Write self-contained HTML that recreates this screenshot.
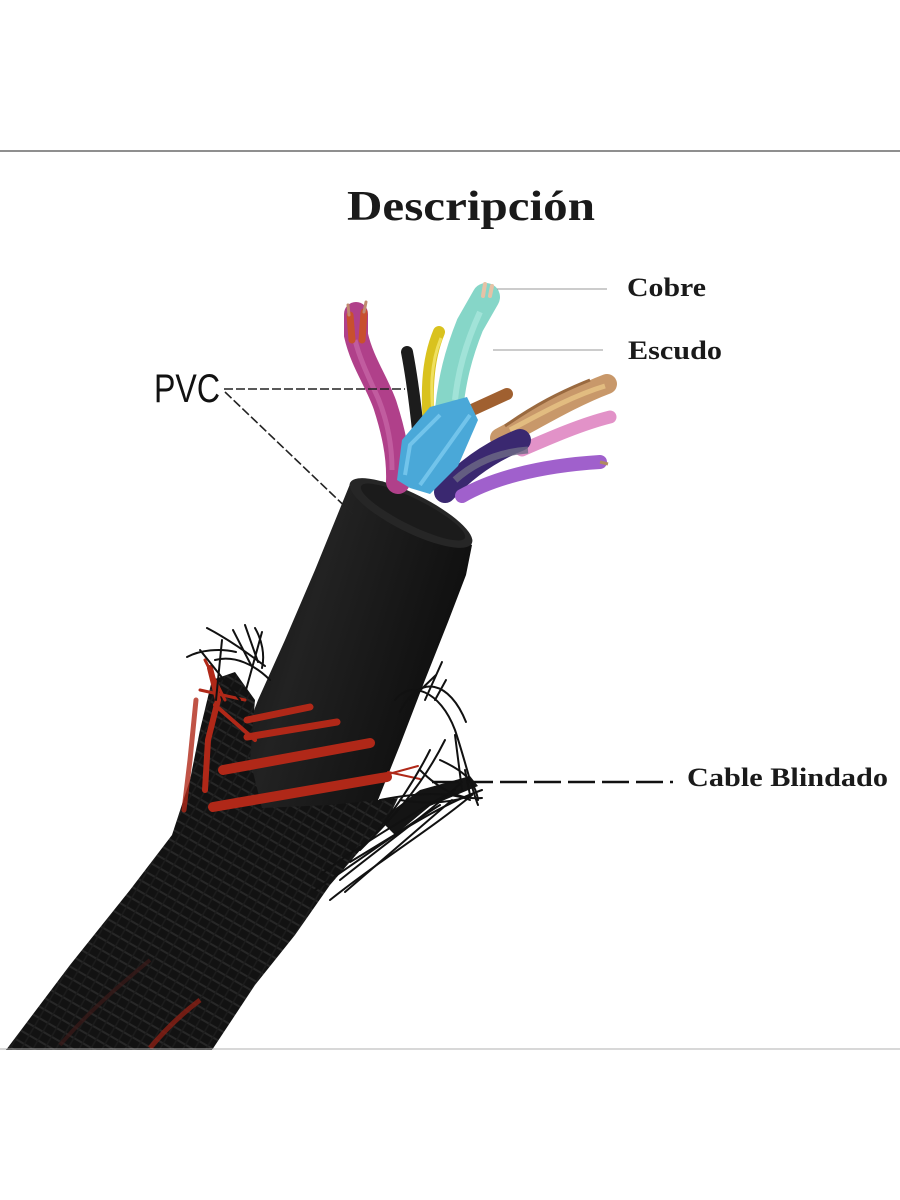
<!DOCTYPE html>
<html>
<head>
<meta charset="utf-8">
<style>
html,body{margin:0;padding:0;background:#fff;}
svg{display:block;}
</style>
</head>
<body>
<svg width="900" height="1200" viewBox="0 0 900 1200" xmlns="http://www.w3.org/2000/svg">
<defs>
  <linearGradient id="pvc" x1="0" y1="0" x2="1" y2="0.4">
    <stop offset="0" stop-color="#0c0c0c"/>
    <stop offset="0.45" stop-color="#222"/>
    <stop offset="0.75" stop-color="#171717"/>
    <stop offset="1" stop-color="#0e0e0e"/>
  </linearGradient>
  <pattern id="weave" width="10" height="10" patternUnits="userSpaceOnUse" patternTransform="rotate(30)">
    <rect width="10" height="10" fill="#121212"/>
    <line x1="0" y1="2" x2="10" y2="2" stroke="#272727" stroke-width="2"/>
    <line x1="3" y1="0" x2="3" y2="10" stroke="#1c1c1c" stroke-width="1.5"/>
  </pattern>
</defs>
<rect width="900" height="1200" fill="#fff"/>
<line x1="0" y1="151" x2="900" y2="151" stroke="#6a6a6a" stroke-width="1.5"/>

<!-- PVC jacket -->
<path d="M350,484 L472,545 L466,575 L448,622 L425,680 L400,745 L370,820 L215,820 L235,760 L258,700 L285,640 L315,570 Z" fill="url(#pvc)"/>
<!-- braid -->
<path d="M6,1050 L212,1050 L255,985 L295,935 L330,885 L362,848 L390,815 L398,798 L330,805 L262,808 L250,760 L255,700 L235,672 L212,680 L200,730 L190,780 L172,835 L130,890 L70,965 Z" fill="url(#weave)"/>
<path d="M150,1048 C165,1030 180,1015 200,1000" stroke="#8a1f14" stroke-width="5" fill="none" opacity="0.8"/>
<path d="M60,1045 C90,1010 120,985 150,960" stroke="#3a1a18" stroke-width="4" fill="none" opacity="0.7"/>
<!-- dark mass at right fray -->
<path d="M380,820 L420,790 L470,776 L478,786 L430,806 L395,835 Z" fill="#141414"/>

<!-- top face -->
<ellipse cx="411" cy="513" rx="68" ry="19" transform="rotate(26.6 411 513)" fill="#262626"/>
<ellipse cx="413" cy="512" rx="58" ry="13" transform="rotate(26.6 413 512)" fill="#1b1b1b"/>

<!-- wires -->
<!-- magenta -->
<path d="M398,482 C399,455 393,430 385,405 C377,382 362,362 356,335 L356,314" stroke="#b0408a" stroke-width="24" fill="none" stroke-linecap="round"/>
<path d="M392,470 C392,445 387,420 378,398 C370,380 360,360 355,340" stroke="#c968a8" stroke-width="5" fill="none" opacity="0.7"/>
<path d="M352,340 L350,315 M362,340 L364,312" stroke="#c8502e" stroke-width="7" stroke-linecap="round"/>
<path d="M349,315 L348,305 M364,312 L366,302" stroke="#c08a70" stroke-width="3" stroke-linecap="round"/>
<!-- black -->
<path d="M419,440 C416,410 412,378 407,352" stroke="#1c1c1c" stroke-width="12" fill="none" stroke-linecap="round"/>
<!-- yellow -->
<path d="M429,425 C427,398 426,363 439,332" stroke="#d9c21e" stroke-width="12" fill="none" stroke-linecap="round"/>
<path d="M433,415 C431,390 430,365 441,338" stroke="#efe060" stroke-width="3" fill="none"/>
<!-- teal -->
<path d="M449,410 C452,380 458,355 470,325 L486,297" stroke="#86d6c8" stroke-width="28" fill="none" stroke-linecap="round"/>
<path d="M455,400 C458,372 465,345 480,312" stroke="#a8e6dc" stroke-width="6" fill="none" opacity="0.8"/>
<path d="M483,296 L485,284 M490,296 L492,286" stroke="#e6c2a6" stroke-width="4" stroke-linecap="round"/>
<!-- brown -->
<path d="M472,410 L507,394" stroke="#a06030" stroke-width="12" stroke-linecap="round"/>
<!-- copper bundle -->
<path d="M500,438 C535,420 570,398 607,384" stroke="#c8986a" stroke-width="20" fill="none" stroke-linecap="round"/>
<path d="M510,430 C540,414 572,396 605,386" stroke="#e2bc80" stroke-width="5" fill="none"/>
<path d="M505,426 C535,405 560,392 590,380" stroke="#9a6a40" stroke-width="3" fill="none"/>
<!-- pink -->
<path d="M522,450 C552,437 582,424 610,417" stroke="#e292c8" stroke-width="13" fill="none" stroke-linecap="round"/>
<!-- dark purple bundle -->
<path d="M445,492 C465,470 490,452 520,440" stroke="#3a2870" stroke-width="22" fill="none" stroke-linecap="round"/>
<path d="M455,480 C475,462 500,452 528,450" stroke="#6e6a86" stroke-width="7" fill="none" opacity="0.8"/>
<!-- purple -->
<path d="M462,496 C490,480 535,466 600,462" stroke="#a060cc" stroke-width="14" fill="none" stroke-linecap="round"/>
<path d="M600,462 L608,464" stroke="#b08a60" stroke-width="3"/>
<!-- blue foil -->
<path d="M397,480 L402,440 L430,407 L467,397 L478,420 L458,466 L430,494 L410,488 Z" fill="#4aa8d8"/>
<path d="M405,475 L410,445 L440,415 M420,485 L445,450 L470,415" stroke="#7ccaf0" stroke-width="4" fill="none" opacity="0.8"/>

<!-- red strands -->
<g stroke="#b02818" fill="none" stroke-linecap="round">
  <path d="M247,720 L310,707" stroke-width="7"/>
  <path d="M247,737 L337,722" stroke-width="7"/>
  <path d="M223,770 L370,743" stroke-width="10"/>
  <path d="M213,807 L387,777" stroke-width="10"/>
  <path d="M385,775 L418,766" stroke-width="2"/>
  <path d="M388,772 L420,779" stroke-width="2"/>
  <path d="M210,668 L218,700 L208,740 L205,790" stroke-width="6"/>
  <path d="M196,700 L190,760 L184,810" stroke-width="5" opacity="0.8"/>
  <path d="M200,690 L245,700" stroke-width="3"/>
  <path d="M215,705 L255,740" stroke-width="4"/>
  <path d="M205,660 L225,700" stroke-width="3"/>
</g>

<!-- black fray strands -->
<g stroke="#111" fill="none" stroke-width="2" stroke-linecap="round">
  <path d="M395,700 C410,680 440,690 455,730 C465,760 472,790 478,805"/>
  <path d="M400,712 C420,672 450,682 466,722"/>
  <path d="M410,700 L436,675"/>
  <path d="M425,700 L442,662"/>
  <path d="M435,700 L446,680"/>
  <path d="M440,760 C462,770 475,780 478,800"/>
  <path d="M330,900 C380,860 430,830 472,795"/>
  <path d="M340,880 C390,840 430,812 462,782"/>
  <path d="M350,862 C400,832 440,805 482,790"/>
  <path d="M315,890 C360,860 400,830 440,805"/>
  <path d="M320,875 C360,845 410,815 455,790"/>
  <path d="M380,800 C420,792 450,792 470,800"/>
  <path d="M420,770 C440,790 460,800 482,798"/>
  <path d="M345,892 L452,800"/>
  <path d="M360,850 C390,820 420,790 445,740"/>
  <path d="M370,840 C395,810 415,780 430,750"/>
  <path d="M400,800 C430,805 455,802 472,795"/>
  <path d="M455,735 L462,790"/>
  <path d="M465,770 L470,795"/>
  <path d="M187,657 C200,650 220,648 236,652"/>
  <path d="M207,628 C230,640 250,655 265,666"/>
  <path d="M233,630 L251,665"/>
  <path d="M245,625 L258,662"/>
  <path d="M255,628 C262,640 265,655 262,668"/>
  <path d="M222,640 L216,700"/>
  <path d="M200,650 L240,700"/>
  <path d="M262,632 L246,690"/>
  <path d="M215,660 C235,655 255,665 270,680"/>
</g>

<!-- leader lines -->
<line x1="497" y1="289" x2="607" y2="289" stroke="#9a9a9a" stroke-width="1"/>
<line x1="493" y1="350" x2="603" y2="350" stroke="#9a9a9a" stroke-width="1"/>
<line x1="224" y1="389" x2="405" y2="389" stroke="#222" stroke-width="1.6" stroke-dasharray="9 3"/>
<line x1="225" y1="392" x2="355" y2="516" stroke="#222" stroke-width="1.6" stroke-dasharray="9 3"/>
<line x1="432" y1="782" x2="673" y2="782" stroke="#111" stroke-width="2.5" stroke-dasharray="27 7"/>

<!-- bottom line -->
<line x1="0" y1="1049" x2="900" y2="1049" stroke="#b0b0b0" stroke-width="1"/>

<!-- text -->
<text x="471" y="220" text-anchor="middle" font-family="Liberation Serif, serif" font-weight="bold" font-size="42" textLength="248" lengthAdjust="spacingAndGlyphs" fill="#1a1a1a">Descripción</text>
<text x="627" y="296" font-family="Liberation Serif, serif" font-weight="bold" font-size="26" textLength="79" lengthAdjust="spacingAndGlyphs" fill="#1a1a1a">Cobre</text>
<text x="628" y="359" font-family="Liberation Serif, serif" font-weight="bold" font-size="26" textLength="94" lengthAdjust="spacingAndGlyphs" fill="#1a1a1a">Escudo</text>
<text x="687" y="786" font-family="Liberation Serif, serif" font-weight="bold" font-size="26" textLength="201" lengthAdjust="spacingAndGlyphs" fill="#1a1a1a">Cable Blindado</text>
<text x="154" y="402" font-family="Liberation Sans, sans-serif" font-size="40" textLength="66" lengthAdjust="spacingAndGlyphs" fill="#111">PVC</text>
</svg>
</body>
</html>
